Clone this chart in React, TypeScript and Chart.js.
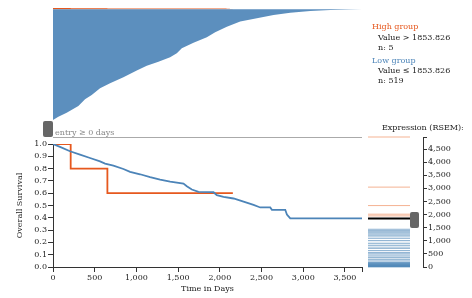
import React, { useEffect, useRef } from 'react';
import { Chart, registerables } from 'chart.js';

Chart.register(...registerables);

const FONT = 'DejaVu Serif';
const TXT = '#222';
const AXIS = '#333';
const BLUE = 'rgb(76,132,184)';
const BLUE_AREA = 'rgb(92,143,190)';
const ORANGE = 'rgb(230,88,30)';

// ---- data ----
const MAX_DAYS = 3704;
const LOW_N = 519;
const HIGH_N = 5;
const THRESHOLD = 1853.826;
const EXPR_MAX = 4960;

// tick labels
const dayTicks = [0, 500, 1000, 1500, 2000, 2500, 3000, 3500];
const survivalTicks = [0, 0.1, 0.2, 0.3, 0.4, 0.5, 0.6, 0.7, 0.8, 0.9, 1.0];
const exprTicks = [0, 500, 1000, 1500, 2000, 2500, 3000, 3500, 4000, 4500];

// Kaplan-Meier, low group
const lowDays = [0, 84, 204, 324, 444, 564, 624, 724, 844, 924, 1044, 1164, 1284, 1404, 1564, 1604, 1664, 1744, 1924, 1964, 2044, 2164, 2284, 2404, 2484, 2604, 2624, 2784, 2804, 2844, 3704];
const lowSurvival = [1.0, 0.976, 0.941, 0.914, 0.886, 0.859, 0.841, 0.824, 0.797, 0.773, 0.754, 0.730, 0.711, 0.695, 0.678, 0.657, 0.630, 0.611, 0.608, 0.584, 0.570, 0.557, 0.532, 0.505, 0.484, 0.484, 0.465, 0.465, 0.427, 0.395, 0.395];

// Kaplan-Meier, high group
const highDays = [0, 212, 652, 2156];
const highSurvival = [1.0, 0.8, 0.6, 0.6];

// follow-up per patient (top panel): low group rank vs days
const lowRank = [69, 82, 99, 126, 153, 171, 198, 218, 243, 270, 289, 306, 324, 340, 361, 383, 405, 426, 448, 469, 482, 496, 505, 512, 516, 518, 519];
const lowFollowUp = [0, 64, 164, 304, 384, 464, 564, 684, 844, 1004, 1124, 1264, 1404, 1484, 1544, 1684, 1844, 1944, 2084, 2244, 2444, 2644, 2844, 3084, 3324, 3564, 3704];
const highFollowUp = [212, 652, 2080, 2120, 2156];

// expression (RSEM)
const highExpr = [4960, 3048, 2344, 2015, 1950];
const lowExpr = [
  1445, 1420, 1395, 1370, 1345, 1320, 1290, 1260, 1230, 1200, 1170,
  1097, 1097, 1006, 1006, 905, 905, 829, 829, 760,
  714, 714, 625, 625, 548, 548, 497, 497, 421, 421,
  357, 357, 293, 293, 229, 229,
  175, 165, 158, 150, 140, 130, 120, 110, 100, 92, 85, 78,
  70, 62, 55, 48, 40, 33, 26, 20, 14, 8, 3,
];

const STRIP_X = 0.382;

const font = { family: FONT, size: 8 };
const fmt = (v: number) => Number(v).toLocaleString('en-US');

export default function App() {
  const topRef = useRef<HTMLCanvasElement>(null);
  const kmRef = useRef<HTMLCanvasElement>(null);
  const exRef = useRef<HTMLCanvasElement>(null);

  useEffect(() => {
    Chart.defaults.font.family = FONT;
    Chart.defaults.font.size = 8;
    const charts: Chart[] = [];

    // top panel
    const highPoints: { x: number; y: number }[] = [{ x: 0, y: LOW_N + HIGH_N }];
    highFollowUp.forEach((d, i) => highPoints.push({ x: d, y: LOW_N + HIGH_N - (i + 1) }));
    charts.push(
      new Chart(topRef.current!, {
        type: 'line',
        data: {
          datasets: [
            {
              data: lowFollowUp.map((d, i) => ({ x: d, y: lowRank[i] })),
              fill: { value: LOW_N },
              backgroundColor: BLUE_AREA,
              borderColor: 'rgba(0,0,0,0)',
              borderWidth: 0,
              pointRadius: 0,
              tension: 0,
            },
            {
              data: highPoints,
              stepped: true,
              fill: { value: LOW_N },
              backgroundColor: ORANGE,
              borderColor: 'rgba(0,0,0,0)',
              borderWidth: 0,
              pointRadius: 0,
            },
          ],
        },
        options: {
          responsive: false,
          animation: false,
          events: [],
          layout: { autoPadding: false, padding: { left: 53, right: 4, top: 8, bottom: 3 } },
          scales: {
            x: { type: 'linear', min: 0, max: MAX_DAYS, display: false },
            y: { type: 'linear', min: 0, max: LOW_N + HIGH_N, display: false },
          },
          plugins: { legend: { display: false }, tooltip: { enabled: false } },
        },
      } as any)
    );

    // Kaplan-Meier
    charts.push(
      new Chart(kmRef.current!, {
        type: 'line',
        data: {
          datasets: [
            {
              data: lowDays.map((d, i) => ({ x: d, y: lowSurvival[i] })),
              borderColor: BLUE,
              borderWidth: 1.8,
              pointRadius: 0,
              fill: false,
              tension: 0,
            },
            {
              data: highDays.map((d, i) => ({ x: d, y: highSurvival[i] })),
              borderColor: ORANGE,
              borderWidth: 1.8,
              pointRadius: 0,
              fill: false,
              stepped: true,
            },
          ],
        },
        options: {
          responsive: false,
          animation: false,
          events: [],
          layout: { autoPadding: false, padding: { left: 0, right: 10, top: 6, bottom: 0 } },
          scales: {
            x: {
              type: 'linear',
              min: 0,
              max: MAX_DAYS,
              afterBuildTicks: (s: any) => {
                s.ticks = [...dayTicks, MAX_DAYS].map((value) => ({ value }));
              },
              afterFit: (s: any) => {
                s.height = 31;
              },
              ticks: {
                autoSkip: false,
                maxRotation: 0,
                padding: 1,
                color: TXT,
                font,
                callback: (v: any, i: number) => (i < dayTicks.length ? fmt(v) : ''),
              },
              grid: { drawOnChartArea: false, tickLength: 5, color: AXIS },
              border: { color: AXIS },
              title: { display: true, text: 'Time in Days', color: TXT, font, padding: { top: 0, bottom: 4 } },
            },
            y: {
              type: 'linear',
              min: 0,
              max: 1,
              afterBuildTicks: (s: any) => {
                s.ticks = survivalTicks.map((value) => ({ value }));
              },
              afterFit: (s: any) => {
                s.width = 53;
              },
              ticks: {
                padding: 1,
                color: TXT,
                font,
                autoSkip: false,
                callback: (v: any) => Number(v).toFixed(1),
              },
              grid: { drawOnChartArea: false, tickLength: 5, color: AXIS },
              border: { color: AXIS },
              title: { display: true, text: 'Overall Survival', color: TXT, font, padding: { top: 15, bottom: 0 } },
            },
          },
          plugins: { legend: { display: false }, tooltip: { enabled: false } },
        },
      } as any)
    );

    // Expression strip
    charts.push(
      new Chart(exRef.current!, {
        type: 'scatter',
        data: {
          datasets: [
            {
              data: lowExpr.map((v) => ({ x: STRIP_X, y: v })),
              pointStyle: 'line',
              pointRadius: 21,
              pointBorderColor: 'rgba(70,130,180,0.4)',
              pointBorderWidth: 1,
              clip: false,
            },
            {
              data: highExpr.map((v) => ({ x: STRIP_X, y: v })),
              pointStyle: 'line',
              pointRadius: 21,
              pointBorderColor: 'rgba(230,85,13,0.45)',
              pointBorderWidth: 1,
              clip: false,
            },
            {
              data: [{ x: STRIP_X, y: THRESHOLD }],
              pointStyle: 'line',
              pointRadius: 21,
              pointBorderColor: '#000',
              pointBorderWidth: 2,
              clip: false,
            },
          ],
        },
        options: {
          responsive: false,
          animation: false,
          events: [],
          layout: { autoPadding: false, padding: { left: 8, right: 0, top: 9, bottom: 11 } },
          scales: {
            x: { type: 'linear', min: 0, max: 1, display: false },
            y: {
              type: 'linear',
              position: 'right',
              min: 0,
              max: EXPR_MAX,
              afterBuildTicks: (s: any) => {
                s.ticks = [...exprTicks, EXPR_MAX].map((value) => ({ value }));
              },
              afterFit: (s: any) => {
                s.width = 49;
              },
              ticks: {
                autoSkip: false,
                padding: 1,
                color: TXT,
                font,
                callback: (v: any, i: number) => (i < exprTicks.length ? fmt(v) : ''),
              },
              grid: { drawOnChartArea: false, tickLength: 4, color: AXIS },
              border: { color: AXIS },
            },
          },
          plugins: { legend: { display: false }, tooltip: { enabled: false } },
        },
      } as any)
    );

    return () => charts.forEach((c) => c.destroy());
  }, []);

  const text = (content: string, left: number, cy: number, color = TXT) => (
    <div
      style={{
        position: 'absolute',
        left,
        top: cy - 5,
        height: 10,
        lineHeight: '10px',
        fontSize: 8,
        fontFamily: FONT,
        color,
        whiteSpace: 'pre',
      }}
    >
      {content}
    </div>
  );

  return (
    <div style={{ position: 'absolute', left: 0, top: 0, width: 472, height: 298, background: '#fff', overflow: 'hidden' }}>
      <canvas ref={topRef} width={366} height={140} style={{ position: 'absolute', left: 0, top: 0, width: 366, height: 140 }} />
      <canvas ref={kmRef} width={372} height={160} style={{ position: 'absolute', left: 0, top: 138, width: 372, height: 160 }} />
      <canvas ref={exRef} width={112} height={150} style={{ position: 'absolute', left: 360, top: 128, width: 112, height: 150 }} />
      <div style={{ position: 'absolute', left: 53, top: 137, width: 309, height: 1, background: '#aaa' }} />
      <div style={{ position: 'absolute', left: 43, top: 121, width: 10, height: 16, background: '#666', borderRadius: 2 }} />
      <div style={{ position: 'absolute', left: 410, top: 212, width: 9, height: 16, background: '#666', borderRadius: 2 }} />
      {text('entry \u2265 0 days', 55, 133, '#888')}
      {text('High group', 372, 27, ORANGE)}
      {text('Value > 1853.826', 378, 38)}
      {text('n: 5', 378, 48)}
      {text('Low group', 372, 61, BLUE)}
      {text('Value \u2264 1853.826', 378, 71)}
      {text('n: 519', 378, 81)}
      {text('Expression (RSEM):', 382, 128)}
    </div>
  );
}
